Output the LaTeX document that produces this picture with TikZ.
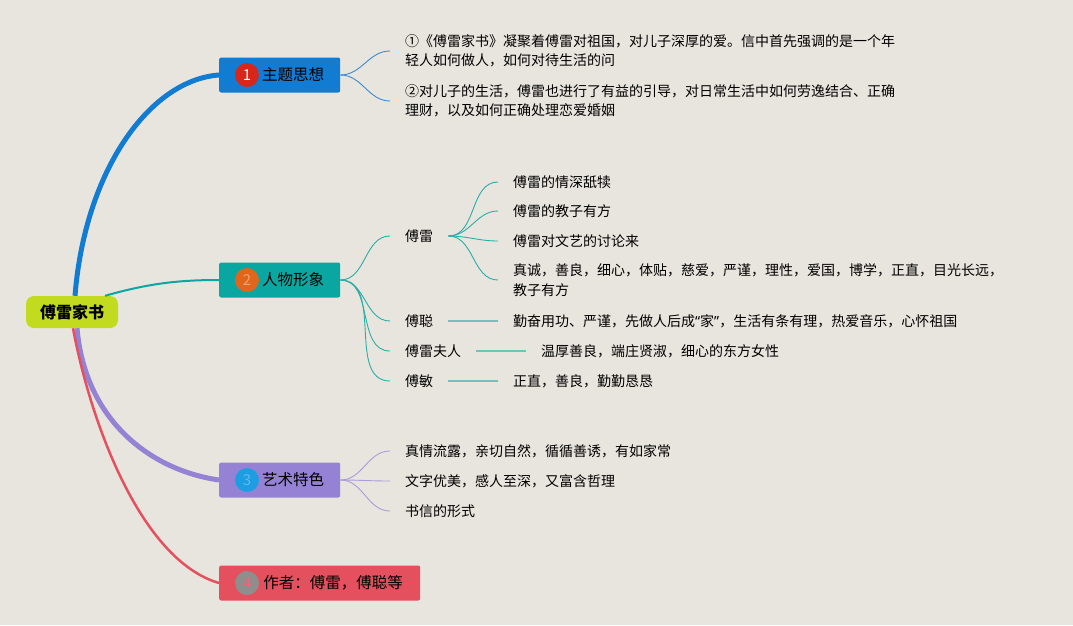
\documentclass[tikz,border=0pt]{standalone}
\usepackage{fontspec}
\setmainfont{Noto Sans CJK SC}
\newfontfamily\quotefont{Noto Sans}
\usepackage{xcolor}
\definecolor{PaperBg}   {HTML}{E8E5DE}
\definecolor{RootLime}  {HTML}{C3DB1E}
\definecolor{ThemeBlue} {HTML}{127BD2}
\definecolor{PeopleTeal}{HTML}{0AA7A2}
\definecolor{ArtPurple} {HTML}{9582D4}
\definecolor{AuthorRed} {HTML}{E4505E}
\definecolor{DotRed}    {HTML}{D8261A}
\definecolor{DotOrange} {HTML}{E0661C}
\definecolor{DotBlue}   {HTML}{1E9DE2}
\definecolor{DotGray}   {HTML}{8E8E8C}
\definecolor{TwigBlue}  {HTML}{3A8AD4}
\definecolor{TwigTeal}  {HTML}{2AAEA8}
\definecolor{BarTeal}   {HTML}{72C2BA}
\definecolor{TwigPurple}{HTML}{AA9CDA}
\usetikzlibrary{positioning}
\tikzset{
  rootnode/.style={rectangle,rounded corners=8pt,fill=RootLime,
    minimum width=92pt,minimum height=32pt,
    font=\fontsize{16}{18}\selectfont\bfseries},
  branchbox/.style={rectangle,rounded corners=2pt,anchor=west,
    minimum height=35pt,inner xsep=0pt,
    font=\fontsize{15.5}{18}\selectfont},
  numdot/.style={circle,inner sep=0pt,minimum size=24pt,
    font=\fontsize{15}{15}\selectfont},
  leaf/.style={anchor=west,inner xsep=0pt,inner ysep=2pt,align=left,
    font=\fontsize{14}{19.5}\selectfont},
  twig/.style={line width=0.9pt},
  bar/.style={line width=2pt,BarTeal},
}
\begin{document}
\begin{tikzpicture}[x=1pt,y=-1pt]
  \fill[PaperBg] (0,0) rectangle (1073,625);
  \useasboundingbox (0,0) rectangle (1073,625);

  % root and the four branches
  \node[rootnode] (root) at (72,312) {傅雷家书};
  \node[branchbox,fill=ThemeBlue,minimum width=121pt] (theme) at (219,75)
    {\hspace{27pt}主题思想};
  \node[branchbox,fill=PeopleTeal,minimum width=121pt] (people) at (219,280)
    {\hspace{27pt}人物形象};
  \node[branchbox,fill=ArtPurple,minimum width=121pt] (art) at (219,480)
    {\hspace{27pt}艺术特色};
  \node[branchbox,fill=AuthorRed,minimum width=201pt] (author) at (219,583)
    {\hspace{27pt}作者：傅雷，傅聪等};
  \node[numdot,fill=DotRed,text=white] (n1) at (247,75) {1};
  \node[numdot,fill=DotOrange,text=DotOrange!60!white] (n2) at (247,280) {2};
  \node[numdot,fill=DotBlue,text=DotBlue!70!white] (n3) at (247,480) {3};
  \node[numdot,fill=DotGray,text=AuthorRed!85!white] (n4) at (247,583) {4};

  \draw[ThemeBlue,line width=5pt] ([xshift=3pt]root.north)
    .. controls (85,170) and (150,80) .. (theme.west);
  \draw[PeopleTeal,line width=2pt] ([xshift=33pt]root.north)
    .. controls (150,283) and (180,280) .. (people.west);
  \draw[ArtPurple,line width=5pt] ([xshift=5pt]root.south)
    .. controls (85,420) and (150,470) .. (art.west);
  \draw[AuthorRed,line width=2.5pt] ([xshift=1pt]root.south)
    .. controls (90,420) and (140,560) .. (author.west);

  % theme
  \node[leaf] (t1) at (405,51)
    {①《傅雷家书》凝聚着傅雷对祖国，对儿子深厚的爱。信中首先强调的是一个年\\
     轻人如何做人，如何对待生活的问};
  \node[leaf] (t2) at (405,101)
    {②对儿子的生活，傅雷也进行了有益的引导，对日常生活中如何劳逸结合、正确\\
     理财，以及如何正确处理恋爱婚姻};
  \foreach \t in {t1,t2}
    \draw[twig,TwigBlue] (theme.east) to[out=0,in=180] ([xshift=-15pt]\t.west);

  % people
  \node[leaf] (fl) at (405,236) {傅雷};
  \node[leaf] (fc) at (405,321) {傅聪};
  \node[leaf] (fw) at (405,351) {傅雷夫人};
  \node[leaf] (fm) at (405,381) {傅敏};
  \foreach \p in {fl,fc,fw,fm}
    \draw[twig,TwigTeal] (people.east) to[out=0,in=180] ([xshift=-15pt]\p.west);

  \node[leaf] (fl1) at (513,182) {傅雷的情深舐犊};
  \node[leaf] (fl2) at (513,211) {傅雷的教子有方};
  \node[leaf] (fl3) at (513,241) {傅雷对文艺的讨论来};
  \node[leaf] (fl4) at (513,280)
    {真诚，善良，细心，体贴，慈爱，严谨，理性，爱国，博学，正直，目光长远，\\
     教子有方};
  \foreach \q in {fl1,fl2,fl3,fl4}
    \draw[twig,TwigTeal] ([xshift=15pt]fl.east) to[out=0,in=180] ([xshift=-15pt]\q.west);

  \node[leaf] (fc1) at (513,321)
    {勤奋用功、严谨，先做人后成{\quotefont “}家{\quotefont ”}，生活有条有理，热爱音乐，心怀祖国};
  \node[leaf] (fw1) at (541,351) {温厚善良，端庄贤淑，细心的东方女性};
  \node[leaf] (fm1) at (513,381) {正直，善良，勤勤恳恳};
  \draw[bar] ([xshift=15pt]fc.east) -- ([xshift=-15pt]fc1.west);
  \draw[bar] ([xshift=15pt]fw.east) -- ([xshift=-15pt]fw1.west);
  \draw[bar] ([xshift=15pt]fm.east) -- ([xshift=-15pt]fm1.west);

  % art
  \node[leaf] (a1) at (405,451) {真情流露，亲切自然，循循善诱，有如家常};
  \node[leaf] (a2) at (405,481) {文字优美，感人至深，又富含哲理};
  \node[leaf] (a3) at (405,511) {书信的形式};
  \foreach \a in {a1,a2,a3}
    \draw[twig,TwigPurple] (art.east) to[out=0,in=180] ([xshift=-15pt]\a.west);
\end{tikzpicture}
\end{document}
